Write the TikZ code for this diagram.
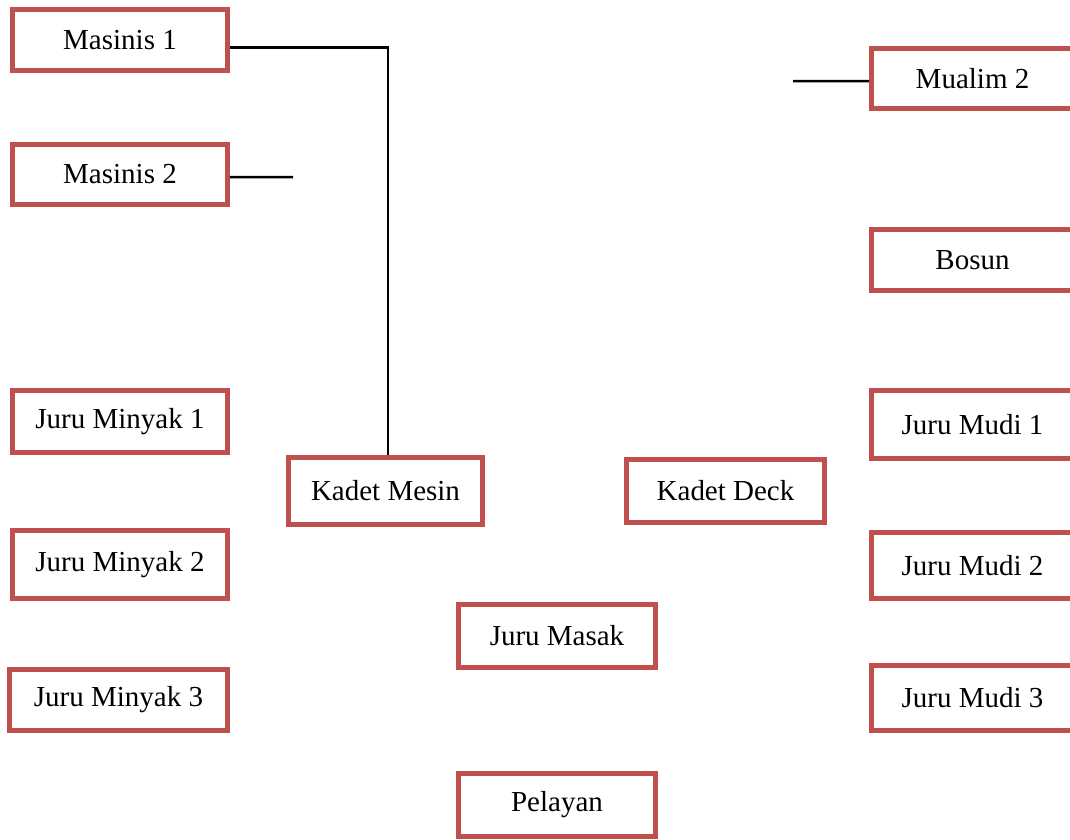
\documentclass[tikz,border=0pt]{standalone}
\usepackage{fontspec}
\setmainfont{Liberation Serif}
\definecolor{kotakmerah}{HTML}{C0504D}
\begin{document}
\begin{tikzpicture}[x=0.02cm, y=-0.02cm,
    jabatan/.style={rectangle, draw=kotakmerah, line width=0.1cm, inner sep=0pt,
        minimum width=4.3cm, minimum height=1.22cm, font=\fontsize{16.5}{19}\selectfont},
    garis/.style={line width=0.05cm}]
    \useasboundingbox (0,0) rectangle (1070,839);
    % kolom mesin
    \node (m1) at (120,40) [jabatan] {Masinis 1};
    \node (m2) at (120,174.5) [jabatan, minimum height=1.2cm] {Masinis 2};
    \node (jmy1) at (120,421.5) [jabatan, minimum height=1.24cm] {Juru Minyak 1};
    \node (jmy2) at (120,564.5) [jabatan, minimum height=1.36cm] {Juru Minyak 2};
    \node (jmy3) at (118.5,700) [jabatan, minimum width=4.36cm] {Juru Minyak 3};
    % tengah
    \node (km) at (385.5,491) [jabatan, minimum width=3.88cm, minimum height=1.34cm] {Kadet Mesin};
    \node (kd) at (725.5,491) [jabatan, minimum width=3.96cm, minimum height=1.26cm] {Kadet Deck};
    \node (jms) at (557,636) [jabatan, minimum width=3.94cm, minimum height=1.26cm] {Juru Masak};
    \node (pl) at (557,805) [jabatan, minimum width=3.94cm, minimum height=1.26cm] {Pelayan};
    % kolom deck
    \node (mu2) at (972.5,78.5) [jabatan, minimum width=4.04cm, minimum height=1.2cm] {Mualim 2};
    \node (bs) at (972.5,260) [jabatan, minimum width=4.04cm] {Bosun};
    \node (jmd1) at (972.5,424.5) [jabatan, minimum width=4.04cm, minimum height=1.36cm] {Juru Mudi 1};
    \node (jmd2) at (972.5,565.5) [jabatan, minimum width=4.04cm, minimum height=1.32cm] {Juru Mudi 2};
    \node (jmd3) at (972.5,698) [jabatan, minimum width=4.04cm, minimum height=1.3cm] {Juru Mudi 3};
    % garis
    \coordinate (m2ujung) at (293,177);
    \coordinate (mu2ujung) at (793,81);
    \draw[garis] ([yshift=-0.15cm]m1.east) -| ([xshift=0.05cm]km.north);
    \draw[garis] ([yshift=-0.05cm]m2.east) -- (m2ujung);
    \draw[garis] (mu2ujung) -- ([yshift=-0.05cm]mu2.west);
\end{tikzpicture}
\end{document}
